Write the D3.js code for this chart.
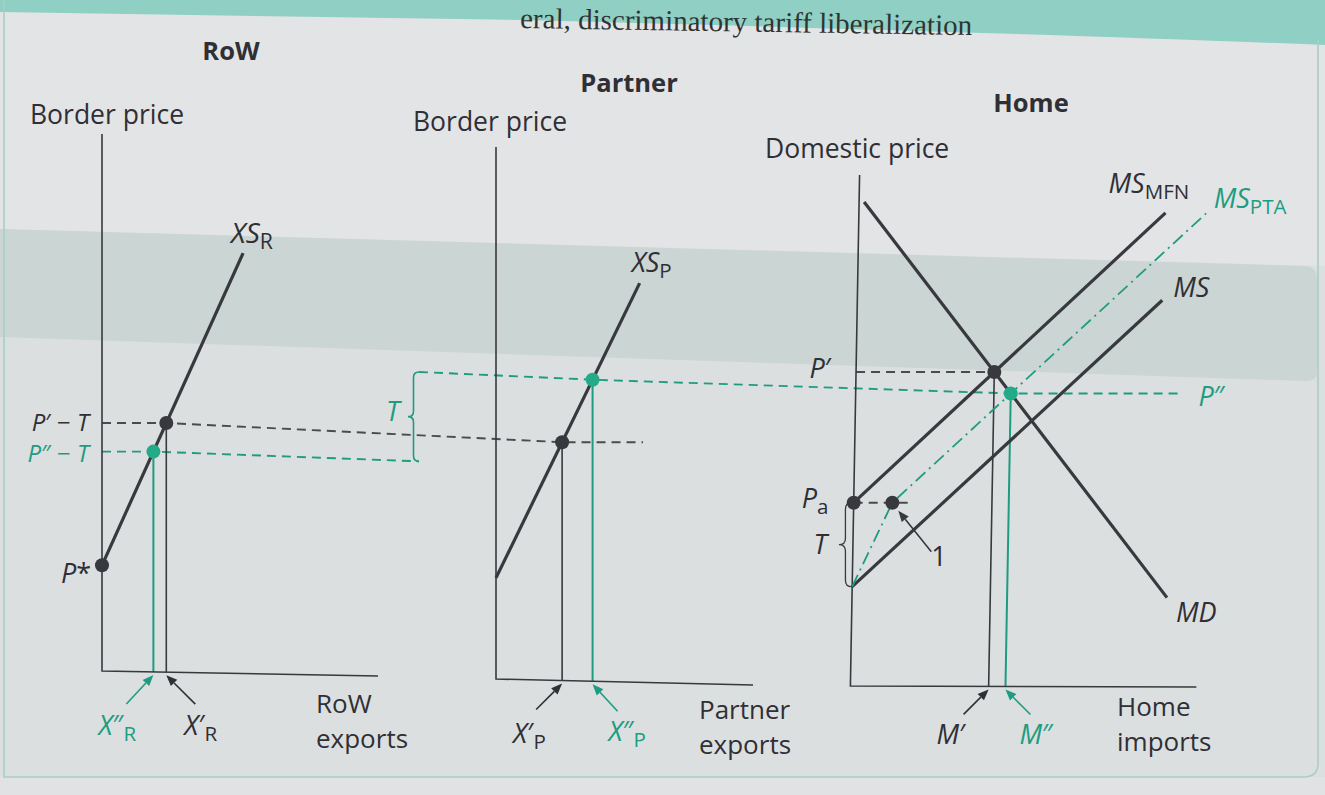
<!DOCTYPE html>
<html>
<head>
<meta charset="utf-8">
<script src="https://cdn.jsdelivr.net/npm/d3@7"></script>
<style>
  html, body { margin: 0; padding: 0; background: #dcdfe0; }
  svg { display: block; }
  text { font-family: "Open Sans", "Noto Sans", "DejaVu Sans", sans-serif; }
</style>
</head>
<body>
<svg id="chart" width="1325" height="795"></svg>
<script>
// ---------------------------------------------------------------------
// Supply switching under a preferential (discriminatory) tariff cut:
// RoW and Partner export supply, Home import demand / import supply.
// ---------------------------------------------------------------------

// Panel titles and axis titles
const panelNames = ["RoW", "Partner", "Home"];
const priceTitles = ["Border price", "Border price", "Domestic price"];
const quantityTitles = [["RoW", "exports"], ["Partner", "exports"], ["Home", "imports"]];

// Tariff and Home autarky price (price units)
const tariff = 10;
const homeAutarkyPrice = 21.3;

// Curves, each as [quantity, price] points
const xsRoW     = [[0, 14.1], [16.8, 42.1]];
const xsPartner = [[0, 10.7], [17.1, 45.8]];
const homeMD    = [[0.6, 57.1], [37.5, 10.0]];
const homeMS    = [[0, 11.3], [36.3, 45.4]];
const homeMSMFN = [[0, 21.3], [36.5, 55.8]];
const homeMSPTA = [[0, 11.3], [4.6, 21.3], [41.4, 55.8]];

// How far the price-level guide lines run into a panel (quantity units)
const guideEndPartner = 17.5;
const guideEndHomeP2 = 38.9;
const guideEndHomePa = 7.0;

// ---------------------------------------------------------------------
const W = 1325, H = 795;
const INK = "#2f2f35", LINE = "#38383f", GREEN = "#1e9c80", GREEN_DOT = "#22aa89";
const UNIT = 8.4;          // pixels per quantity unit (and default per price unit)
const PIVOT = 430;         // lean pivot for the Home panel

const panels = [
  { x0: 102, top: 134, axisY: [671, 676], xEnd: 378,  base: 722.5, py: 11.15, lean: 0 },
  { x0: 496, top: 147, axisY: [679, 685], xEnd: 753,  base: 667.8, py: UNIT,  lean: 0 },
  { x0: 855, top: 175, axisY: [686, 687], xEnd: 1201, base: 681.6, py: UNIT,  lean: -0.018 }
];
panels.forEach(pn => {
  pn.x = d3.scaleLinear().domain([0, 50]).range([pn.x0, pn.x0 + 50 * UNIT]);
  pn.y = d3.scaleLinear().domain([0, 60]).range([pn.base, pn.base - 60 * pn.py]);
});
const [P1, P2, P3] = panels;

function lean(pn, x, y) { return [x + pn.lean * (y - PIVOT), y]; }
function pt(pn, d) { return lean(pn, pn.x(d[0]), pn.y(d[1])); }
function axisYAt(pn, x) {
  return pn.axisY[0] + (pn.axisY[1] - pn.axisY[0]) * (x - pn.x0) / (pn.xEnd - pn.x0);
}
function qAtPrice(curve, p) {
  for (let i = 0; i < curve.length - 1; i++) {
    const [q0, p0] = curve[i], [q1, p1] = curve[i + 1];
    if ((p - p0) * (p - p1) <= 0) return q0 + (q1 - q0) * (p - p0) / (p1 - p0);
  }
  return NaN;
}
function intersect(a, b) {
  const [[x1, y1], [x2, y2]] = a, [[x3, y3], [x4, y4]] = b;
  const d = (x1 - x2) * (y3 - y4) - (y1 - y2) * (x3 - x4);
  const t = ((x1 - x3) * (y3 - y4) - (y1 - y3) * (x3 - x4)) / d;
  return [x1 + t * (x2 - x1), y1 + t * (y2 - y1)];
}

// Equilibria
const eqMFN = intersect(homeMD, homeMSMFN);                       // P'
const eqPTA = intersect(homeMD, [homeMSPTA[1], homeMSPTA[2]]);     // P''
const pPrime = eqMFN[1], pDouble = eqPTA[1];
const pPrimeNet = pPrime - tariff, pDoubleNet = pDouble - tariff;
const rowA = [qAtPrice(xsRoW, pPrimeNet), pPrimeNet];
const rowB = [qAtPrice(xsRoW, pDoubleNet), pDoubleNet];
const parA = [qAtPrice(xsPartner, pPrimeNet), pPrimeNet];
const parB = [qAtPrice(xsPartner, pDouble), pDouble];
const homeA = [0, homeAutarkyPrice];
const kink = homeMSPTA[1];
const pStar = xsRoW[0];

// ---------------------------------------------------------------------
const svg = d3.select("#chart");
const line = d3.line();

// Page
const bg = svg.append("g");
bg.append("rect").attr("width", W).attr("height", H).attr("fill", "#dcdfe0");
bg.append("path").attr("d", "M0,0 H1325 V266 L0,229 Z").attr("fill", "#e3e4e6");
bg.append("path")
  .attr("d", "M0,229 L1304,266 Q1317,266 1317,279 L1317,372 Q1317,382 1304,381 L0,337 Z")
  .attr("fill", "#cbd5d3");
bg.append("path").attr("d", "M0,0 H1325 V45 Q1000,32 520,20 L0,12 Z").attr("fill", "#8fcfc4");
bg.append("path").attr("d", "M0,777 H1325 V795 H0 Z").attr("fill", "#e1e2e3");
bg.append("path").attr("d", "M4,0 V777 H1304 Q1318,777 1318,763 V40")
  .attr("fill", "none").attr("stroke", "#a9cec7").attr("stroke-width", 1.6);
bg.append("text")
  .attr("x", 520).attr("y", 28)
  .attr("transform", "rotate(0.9 520 28)")
  .style("font-family", "'Liberation Serif', 'DejaVu Serif', serif")
  .attr("font-size", 29).attr("fill", "#2f3433")
  .text("eral, discriminatory tariff liberalization");

const gGuides = svg.append("g");
const gDrops = svg.append("g");
const gAxes = svg.append("g");
const gCurves = svg.append("g");
const gDots = svg.append("g");
const gText = svg.append("g");

// Axes
panels.forEach(pn => {
  gAxes.append("path")
    .attr("d", line([lean(pn, pn.x0, pn.top), lean(pn, pn.x0, pn.axisY[0]), lean(pn, pn.xEnd, pn.axisY[1])]))
    .attr("fill", "none").attr("stroke", LINE).attr("stroke-width", 1.6);
});

// Dashed price guides (some run across panels)
const braceX = 419;
const tB = (braceX - P1.x0) / (P2.x0 - P1.x0);
const bridgeY = p => P1.y(p) + (P2.y(p) - P1.y(p)) * tB;

function guide(points, color) {
  gGuides.append("path").attr("d", line(points))
    .attr("fill", "none").attr("stroke", color).attr("stroke-width", 1.9)
    .attr("stroke-dasharray", "9,6");
}
guide([pt(P1, [0, pPrimeNet]), pt(P1, rowA), pt(P2, parA), pt(P2, [guideEndPartner, pPrimeNet])], "#4a4a52");
guide([pt(P1, [0, pDoubleNet]), pt(P1, rowB), [braceX, bridgeY(pDoubleNet)]], GREEN);
guide([[braceX, bridgeY(pDouble)], pt(P2, parB), pt(P3, eqPTA), pt(P3, [guideEndHomeP2, pDouble])], GREEN);
guide([pt(P3, [0, pPrime]), pt(P3, eqMFN)], "#4a4a52");
guide([pt(P3, homeA), pt(P3, [guideEndHomePa, homeAutarkyPrice])], "#4a4a52");

// Drop lines to the quantity axis
function drop(pn, d, color, w) {
  const x = pn.x(d[0]);
  gDrops.append("path")
    .attr("d", line([lean(pn, x, pn.y(d[1])), lean(pn, x, axisYAt(pn, x))]))
    .attr("stroke", color).attr("stroke-width", w).attr("fill", "none");
}
drop(P1, rowA, LINE, 1.6);
drop(P1, rowB, GREEN, 2);
drop(P2, parA, LINE, 1.6);
drop(P2, parB, GREEN, 2);
drop(P3, eqMFN, LINE, 1.6);
drop(P3, eqPTA, GREEN, 2);

// Curves
function curve(pn, data, color, w, dash) {
  const p = gCurves.append("path").attr("d", line(data.map(d => pt(pn, d))))
    .attr("fill", "none").attr("stroke", color).attr("stroke-width", w)
    .attr("stroke-linecap", "butt");
  if (dash) p.attr("stroke-dasharray", dash);
}
curve(P1, xsRoW, LINE, 3.2);
curve(P2, xsPartner, LINE, 3.2);
curve(P3, homeMD, LINE, 3.2);
curve(P3, homeMS, LINE, 3.2);
curve(P3, homeMSMFN, LINE, 3.2);
curve(P3, homeMSPTA, GREEN, 1.8, "13,5,2,5");

// Braces marking the tariff wedge
function bracePath(x, y1, y2, w) {
  const ym = (y1 + y2) / 2, xm = x - w / 2, xc = x - w, r = w / 2;
  return `M${x},${y1} Q${xm},${y1} ${xm},${y1 + r} L${xm},${ym - r} Q${xm},${ym} ${xc},${ym}` +
         ` Q${xm},${ym} ${xm},${ym + r} L${xm},${y2 - r} Q${xm},${y2} ${x},${y2}`;
}
gCurves.append("path").attr("d", bracePath(braceX, bridgeY(pDouble), bridgeY(pDoubleNet), 11))
  .attr("fill", "none").attr("stroke", GREEN).attr("stroke-width", 1.6);
{
  const top = pt(P3, homeA), bot = pt(P3, [0, homeAutarkyPrice - tariff]);
  gCurves.append("path").attr("d", bracePath((top[0] + bot[0]) / 2 - 1, top[1], bot[1], 13))
    .attr("fill", "none").attr("stroke", LINE).attr("stroke-width", 1.3);
}

// Dots
function dot(pn, d, color) {
  const [x, y] = pt(pn, d);
  gDots.append("circle").attr("cx", x).attr("cy", y).attr("r", 7).attr("fill", color);
}
dot(P1, pStar, LINE);
dot(P1, rowA, LINE);
dot(P1, rowB, GREEN_DOT);
dot(P2, parA, LINE);
dot(P2, parB, GREEN_DOT);
dot(P3, homeA, LINE);
dot(P3, kink, LINE);
dot(P3, eqMFN, LINE);
dot(P3, eqPTA, GREEN_DOT);

// Arrows
function arrow(from, to, color) {
  const dx = to[0] - from[0], dy = to[1] - from[1], L = Math.hypot(dx, dy);
  const ux = dx / L, uy = dy / L, hl = 11, hw = 4.5;
  const bx = to[0] - ux * hl, by = to[1] - uy * hl;
  gText.append("line").attr("x1", from[0]).attr("y1", from[1]).attr("x2", bx).attr("y2", by)
    .attr("stroke", color).attr("stroke-width", 1.6);
  gText.append("path")
    .attr("d", `M${to[0]},${to[1]} L${bx - uy * hw},${by + ux * hw} L${bx + uy * hw},${by - ux * hw} Z`)
    .attr("fill", color);
}

// Text labels: parts = [{t, it, sub}]
function label(x, y, parts, opt = {}) {
  const size = opt.size || 27;
  const t = gText.append("text").attr("x", x).attr("y", y)
    .attr("fill", opt.color || INK).attr("font-size", size)
    .attr("text-anchor", opt.anchor || "start")
    .attr("font-weight", opt.weight || 400);
  parts.forEach(p => {
    const s = t.append("tspan").text(p.t);
    if (p.it) s.attr("font-style", "italic");
    if (p.sub) s.attr("font-size", size * 0.76).attr("dy", 6).attr("font-style", "normal");
  });
  return t;
}
const it = t => ({ t, it: true });
const up = t => ({ t });
const sub = t => ({ t, sub: true });

// Panel titles and axis titles
const titleX = [231, 629, 1031], titleY = [60, 92, 112];
panelNames.forEach((n, i) => label(titleX[i], titleY[i], [up(n)], { anchor: "middle", weight: 700, size: 25.5 }));
const ptX = [30, 413, 765], ptY = [124, 131, 158];
priceTitles.forEach((n, i) => label(ptX[i], ptY[i], [up(n)], { size: 26.5 }));
const qtX = [316, 699, 1117], qtY = [713, 719, 716], qtGap = 35;
quantityTitles.forEach((n, i) => {
  label(qtX[i], qtY[i], [up(n[0])], { size: 26 });
  label(qtX[i], qtY[i] + qtGap, [up(n[1])], { size: 26 });
});

// Curve names
{
  const e = pt(P1, xsRoW[1]);  label(e[0] - 12, e[1] - 10, [it("XS"), sub("R")], { size: 28 });
  const f = pt(P2, xsPartner[1]); label(f[0] - 8, f[1] - 11, [it("XS"), sub("P")]);
  const g = pt(P3, homeMSMFN[1]); label(g[0] - 57, g[1] - 20, [it("MS"), sub("MFN")]);
  const h = pt(P3, homeMSPTA[2]); label(h[0] + 7, h[1] - 5, [it("MS"), sub("PTA")], { color: GREEN });
  const k = pt(P3, homeMS[1]); label(k[0] + 11, k[1] - 3, [it("MS")]);
  const m = pt(P3, homeMD[1]); label(m[0] + 9, m[1] + 24, [it("MD")]);
}

// Price level labels
label(P1.x0 - 13, P1.y(pPrimeNet) + 8, [it("P"), up("\u2032 \u2212 "), it("T")], { anchor: "end", size: 24 });
label(P1.x0 - 13, P1.y(pDoubleNet) + 10, [it("P"), up("\u2033 \u2212 "), it("T")], { anchor: "end", size: 24, color: GREEN });
label(P1.x0 - 41, P1.y(pStar[1]) + 18, [it("P"), up("*")]);
label(386, (bridgeY(pDouble) + bridgeY(pDoubleNet)) / 2 + 4, [it("T")], { color: GREEN });
{
  const a = pt(P3, [0, pPrime]); label(a[0] - 25, a[1] + 6, [it("P"), up("\u2032")], { anchor: "end" });
  const b = pt(P3, homeA); label(b[0] - 52, b[1] + 5, [it("P"), sub("a")]);
  const c = pt(P3, [0, homeAutarkyPrice - tariff / 2]); label(c[0] - 26, c[1] + 9, [it("T")], { anchor: "end" });
  const d = pt(P3, [guideEndHomeP2, pDouble]); label(d[0] + 16, d[1] + 13, [it("P"), up("\u2033")], { color: GREEN });
  const k = pt(P3, kink);
  arrow([k[0] + 39, k[1] + 49], [k[0] + 6, k[1] + 8], LINE);
  label(k[0] + 39, k[1] + 63, [up("1")]);
}

// Quantity labels with pointers to the axis
function qMark(pn, d, dxTail, dyTail, lx, ly, parts, color) {
  const x = pn.x(d[0]);
  const tip = lean(pn, x, axisYAt(pn, x) + 3);
  arrow([tip[0] + dxTail, tip[1] + dyTail], tip, color);
  label(tip[0] + lx, tip[1] + ly, parts, { color });
}
qMark(P1, rowB, -27, 29, -55, 60, [it("X"), up("\u2033"), sub("R")], GREEN);
qMark(P1, rowA, 29, 29, 18, 60, [it("X"), up("\u2032"), sub("R")], INK);
qMark(P2, parA, -26, 26, -49, 59, [it("X"), up("\u2032"), sub("P")], INK);
qMark(P2, parB, 25, 27, 16, 57, [it("X"), up("\u2033"), sub("P")], GREEN);
qMark(P3, eqMFN, -25, 25, -52, 55, [it("M"), up("\u2032")], INK);
qMark(P3, eqPTA, 25, 25, 14, 55, [it("M"), up("\u2033")], GREEN);
</script>
</body>
</html>
